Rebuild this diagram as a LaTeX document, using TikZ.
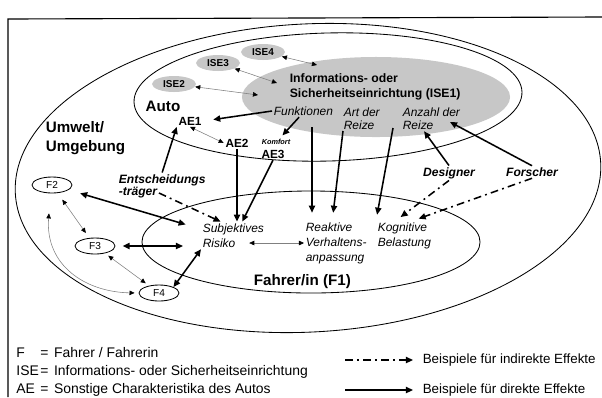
\documentclass[tikz,border=0pt]{standalone}
\usepackage{fontspec}
\setmainfont{Liberation Sans}
\usetikzlibrary{arrows.meta,shapes.geometric}

\newcommand{\bigfont}{\fontsize{10.8}{13.5}\selectfont\bfseries}
\newcommand{\isefont}{\fontsize{8.7}{10.6}\selectfont\bfseries}
\newcommand{\smallise}{\fontsize{7.1}{8}\selectfont\bfseries}
\newcommand{\aefont}{\fontsize{8.4}{10}\selectfont\bfseries}
\newcommand{\itfont}{\fontsize{8.5}{9.3}\selectfont\itshape}
\newcommand{\bifont}{\fontsize{8.6}{9.3}\selectfont\bfseries\itshape}
\newcommand{\legfont}{\fontsize{9.9}{12.8}\selectfont}

\begin{document}
\begin{tikzpicture}[x=0.025cm, y=-0.025cm, line width=0.6pt,
	every node/.style={inner sep=1pt},
	arr/.style={-{Triangle[length=5pt,width=4.4pt]}, line width=1.1pt},
	darr/.style={{Triangle[length=5pt,width=4.4pt]}-{Triangle[length=5pt,width=4.4pt]}, line width=1.1pt},
	tarr/.style={{Triangle[length=3.6pt,width=3.2pt,color=black]}-{Triangle[length=3.6pt,width=3.2pt,color=black]}, line width=0.4pt, draw=black!50},
	iarr/.style={-{Triangle[length=5pt,width=4.4pt]}, line width=1.1pt, dash pattern=on 5.5pt off 3pt on 1.3pt off 3pt},
	ise/.style={ellipse, fill=black!22, inner sep=0pt, minimum width=1.1cm, minimum height=0.4cm, font=\smallise},
	fel/.style={ellipse, draw, inner sep=0pt, minimum width=1cm, minimum height=0.4cm, font=\fontsize{7.2}{8}\selectfont}]

	\useasboundingbox (0,0) rectangle (602,397);
	\draw[line width=0.8pt] (8,397) -- (8,19) -- (602,17);

	% Umwelt, Auto, ISE1, Fahrer
	\draw[rotate around={3:(308,178)}] (308,178) ellipse [x radius=7.325cm, y radius=3.85cm];
	\draw[rotate around={1.5:(328,97)}] (328,97) ellipse [x radius=4.85cm, y radius=1.6cm];
	\fill[black!22] (376,97) ellipse [x radius=3.35cm, y radius=1cm];
	\draw (311,242) ellipse [x radius=4.225cm, y radius=1.275cm];

	\node[ise] (ise2) at (174,84) {ISE2};
	\node[ise] (ise3) at (218,63) {ISE3};
	\node[ise] (ise4) at (263,52) {ISE4};
	\node[font=\isefont, align=left, anchor=west] (ise1) at (288,87) {Informations- oder\\Sicherheitseinrichtung (ISE1)};

	\node[font=\bigfont] (auto) at (163,106) {Auto};
	\node[font=\bigfont, align=left, anchor=west] (umwelt) at (44,138.5) {Umwelt/\\Umgebung};
	\node[font=\bigfont, anchor=west] (fahrer) at (252,282) {Fahrer/in (F1)};

	\node[font=\aefont] (ae1) at (190,121) {AE1};
	\node[font=\aefont] (ae2) at (237,143) {AE2};
	\node[font=\fontsize{5.2}{6}\selectfont\bfseries\itshape] (komfort) at (276,142) {Komfort};
	\node[font=\aefont] (ae3) at (273,154) {AE3};

	\node[font=\itfont, anchor=west] (fkt) at (272,111) {Funktionen};
	\node[font=\itfont, align=left, anchor=west] (art) at (342,118.5) {Art der\\Reize};
	\node[font=\itfont, align=left, anchor=west] (anzahl) at (401,118.5) {Anzahl der\\Reize};

	\node[font=\bifont] (designer) at (449,173) {Designer};
	\node[font=\bifont] (forscher) at (532,172) {Forscher};
	\node[font=\bifont, anchor=west] (entsch) at (117,180) {Entscheidungs};
	\node[font=\bifont, anchor=west] (traeger) at (117,193) {-träger};

	\node[font=\itfont, anchor=west] (subj) at (201,229) {Subjektives};
	\node[font=\itfont, anchor=west] (risiko) at (201,243) {Risiko};
	\node[font=\fontsize{8.5}{10.6}\selectfont\itshape, align=left, anchor=west] (reakt) at (304,243) {Reaktive\\Verhaltens-\\anpassung};
	\node[font=\fontsize{8.5}{10.6}\selectfont\itshape, align=left, anchor=west] (kogn) at (376,235.5) {Kognitive\\Belastung};

	\node[fel] (f2) at (52,185) {F2};
	\node[fel] (f3) at (95,246) {F3};
	\node[fel] (f4) at (159,293) {F4};

	\coordinate (c2) at (258,95);
	\coordinate (c3) at (277,83);
	\coordinate (c4) at (317,65);
	\coordinate (g1) at (312,127);
	\coordinate (g2) at (343,131);
	\coordinate (g3) at (393,128);
	\coordinate (g4) at (450,122);

	\draw[tarr] (ise4) -- (c4);
	\draw[tarr] (ise3) -- (c3);
	\draw[tarr] (ise2) -- (c2);
	\draw[arr, shorten >=0.25cm] (fkt.west) -- (ae1.east);
	\draw[arr, shorten >=2pt] (fkt.235) -- (komfort.45);
	\draw[tarr] (ae1.south) -- (ae2.west);
	\draw[arr] (entsch.north) -- (ae1.south west);
	\draw[arr] (ae2.south) -- (ae2.south |- subj.north);
	\draw[arr] (ae3.south) -- (subj.40);

	\draw[darr, shorten <=0.3cm, shorten >=0.4cm] (f2) -- (subj.west);
	\draw[darr, shorten <=0.18cm, shorten >=0.45cm] (f3.east) -- (f3.east -| risiko.west);
	\draw[darr] (f4.north east) -- (risiko.south west);
	\draw[tarr, shorten <=0.2cm, shorten >=0.15cm] (f2) -- (f3);
	\draw[tarr, shorten <=0.1cm, shorten >=0.1cm] (f3) -- (f4);
	\draw[tarr, shorten <=0.5cm, shorten >=0.1cm] (f2.260) .. controls (45,265) and (85,292) .. (f4.west);
	\draw[tarr, shorten <=0.3cm] (risiko.east) -- (reakt.west);

	\draw[arr, shorten >=0.2cm] (g1) -- (g1 |- reakt.north);
	\draw[arr, shorten >=0.2cm] (g2) -- (reakt.100);
	\draw[arr, shorten >=0.15cm] (g3) -- (kogn.north west);
	\draw[arr] (designer.north) -- (anzahl.-120);
	\draw[arr] (forscher.north) -- (g4);
	\draw[iarr, shorten >=0.15cm] (designer.south) -- (kogn.120);
	\draw[iarr, shorten >=0.15cm] (forscher.south) -- (kogn.60);
	\draw[iarr] (traeger.east) -- (subj.150);

	% Legende
	\node[font=\legfont, anchor=west, inner sep=0pt] (legende) at (16,372) {%
		\begin{tabular}{@{}l@{\hspace{1pt}}c@{\hspace{4pt}}l}
			F & = & Fahrer / Fahrerin\\
			ISE & = & Informations- oder Sicherheitseinrichtung\\
			AE & = & Sonstige Charakteristika des Autos
		\end{tabular}};
	\coordinate (li) at (345,360);
	\coordinate (ld) at (345,390);
	\node[font=\fontsize{9.5}{11}\selectfont, anchor=west] (lind) at (421,360) {Beispiele für indirekte Effekte};
	\node[font=\fontsize{9.5}{11}\selectfont, anchor=west] (ldir) at (421,390) {Beispiele für direkte Effekte};
	\draw[iarr, shorten >=0.2cm] (li) -- (lind.west);
	\draw[arr, shorten >=0.2cm] (ld) -- (ldir.west);
\end{tikzpicture}
\end{document}
